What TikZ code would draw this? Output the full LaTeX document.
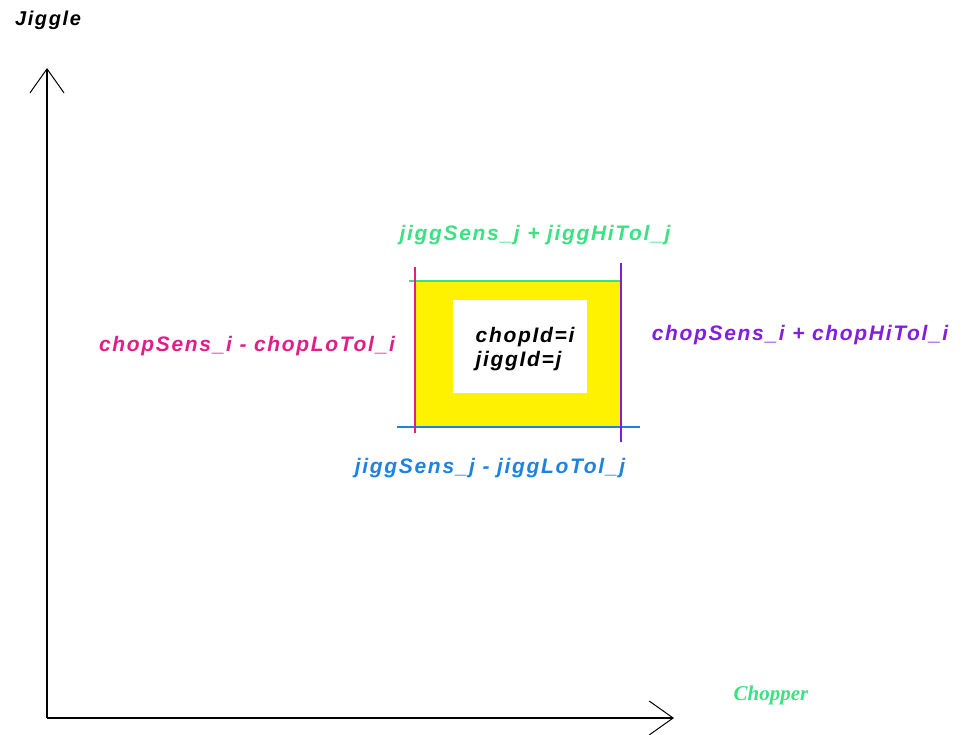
\documentclass[tikz,border=0pt]{standalone}
\usepackage{fontspec}
\setmainfont{Liberation Sans}
\newfontfamily\labelfont[LetterSpace=8]{Liberation Sans}
\newfontfamily\timesfont{Liberation Serif}
\usetikzlibrary{arrows.meta}
\definecolor{tolgreen}{RGB}{60,225,130}
\definecolor{tolpink}{RGB}{225,30,135}
\definecolor{tolpurple}{RGB}{130,30,220}
\definecolor{tolblue}{RGB}{30,130,225}
\tikzset{
    axis/.style={line width=1.3pt, -{Straight Barb[length=24pt, width=34pt, line width=1pt]}},
    tolline/.style={line width=1.3pt},
    tollabel/.style={font=\fontsize{21}{24}\labelfont\bfseries\itshape},
}

\begin{document}
\begin{tikzpicture}[x=1pt, y=-1pt]
\useasboundingbox (0,0) rectangle (965,735);
% axes
\coordinate (origin) at (47,718);
\coordinate (yend) at (47,68);
\coordinate (xend) at (674,718);
\draw[axis] (origin) -- (yend);
\draw[axis] (origin) -- (xend);
\node[tollabel, font=\fontsize{20}{23}\labelfont\bfseries\itshape] (jiggle) at (48,20) {Jiggle};
\node[tollabel, text=tolgreen, font=\fontsize{21}{24}\timesfont\bfseries\itshape] (chopper) at (771,695) {Chopper};

% tolerance window
\fill[yellow] (415,281) rectangle (621,427);
\fill[white] (453,300) rectangle (587,393);
\coordinate (hiL) at (409,281);
\coordinate (hiR) at (621,281);
\coordinate (loL) at (397,427);
\coordinate (loR) at (640,427);
\coordinate (leftT) at (415,267);
\coordinate (leftB) at (415,433);
\coordinate (rightT) at (621,263);
\coordinate (rightB) at (621,442);
\draw[tolline, tolgreen] (hiL) -- (hiR);
\draw[tolline, tolblue] (loL) -- (loR);
\draw[tolline, tolpink] (leftT) -- (leftB);
\draw[tolline, tolpurple] (rightT) -- (rightB);

% labels
\node[tollabel, align=left] (ids) at (525,349) {chopId=i\\jiggId=j};
\node[tollabel, text=tolgreen] (hilabel) at (535,235) {jiggSens\_j + jiggHiTol\_j};
\node[tollabel, text=tolblue] (lolabel) at (490,468) {jiggSens\_j - jiggLoTol\_j};
\node[tollabel, text=tolpink] (leftlabel) at (247,346) {chopSens\_i - chopLoTol\_i};
\node[tollabel, text=tolpurple] (rightlabel) at (800,335) {chopSens\_i + chopHiTol\_i};
\end{tikzpicture}
\end{document}
